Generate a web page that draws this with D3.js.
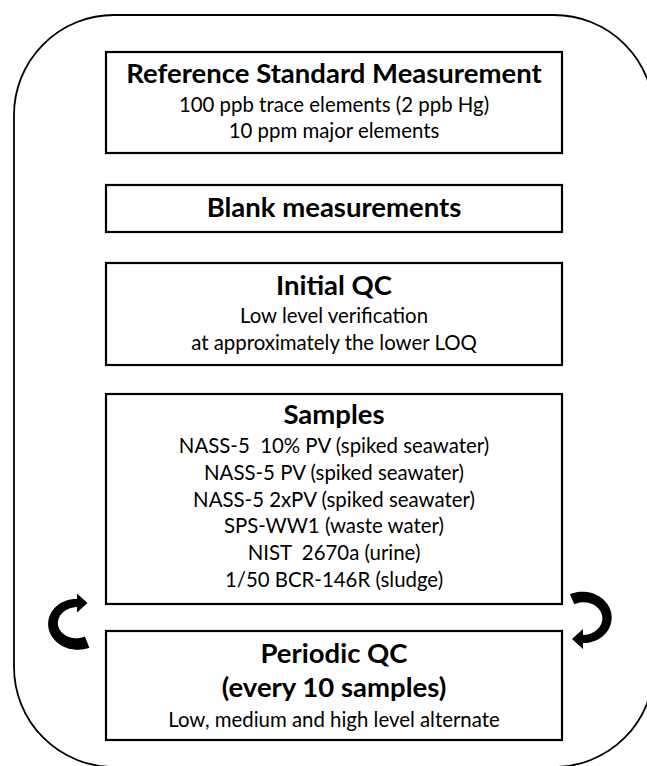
<!DOCTYPE html>
<html>
<head>
<meta charset="utf-8">
<script src="https://cdn.jsdelivr.net/npm/d3@7"></script>
<style>
  html, body { margin: 0; padding: 0; background: #fff; }
  svg { display: block; }
  text { white-space: pre; }
</style>
</head>
<body>
<div id="chart"></div>
<script>
// ---- content ----
const stepTitles = [
  ["Reference Standard Measurement"],
  ["Blank measurements"],
  ["Initial QC"],
  ["Samples"],
  ["Periodic QC", "(every 10 samples)"]
];
const stepDetails = [
  ["100 ppb trace elements (2 ppb Hg)", "10 ppm major elements"],
  [],
  ["Low level verification", "at approximately the lower LOQ"],
  ["NASS-5  10% PV (spiked seawater)", "NASS-5 PV (spiked seawater)", "NASS-5 2xPV (spiked seawater)",
   "SPS-WW1 (waste water)", "NIST  2670a (urine)", "1/50 BCR-146R (sludge)"],
  ["Low, medium and high level alternate"]
];

// ---- layout ----
const W = 647, H = 766;
const FONT = "Lato, 'Open Sans', sans-serif";
const boxX0 = 106, boxX1 = 562, cx = (boxX0 + boxX1) / 2;
const boxY = [[52, 153], [185, 232], [263, 365], [394, 604], [631, 740]];
const titleBase = [[83], [217], [295], [424], [663, 697]];
const detailBase = [[111.5, 138], [], [323, 350], [453, 480, 506.5, 533, 560, 586.5], [727]];

const svg = d3.select("#chart").append("svg")
  .attr("width", W).attr("height", H);

// outer rounded frame
svg.append("rect")
  .attr("x", 14).attr("y", 15)
  .attr("width", 640).attr("height", 752)
  .attr("rx", 100).attr("ry", 100)
  .attr("fill", "none").attr("stroke", "#000").attr("stroke-width", 1.8);

const steps = stepTitles.map((t, i) => ({ titles: t, details: stepDetails[i], i }));

const g = svg.selectAll("g.step").data(steps).join("g").attr("class", "step");

g.append("rect")
  .attr("x", boxX0)
  .attr("y", d => boxY[d.i][0])
  .attr("width", boxX1 - boxX0)
  .attr("height", d => boxY[d.i][1] - boxY[d.i][0])
  .attr("fill", "#fff").attr("stroke", "#000").attr("stroke-width", 2.2);

g.each(function(d) {
  const sel = d3.select(this);
  sel.selectAll("text.title").data(d.titles).join("text")
    .attr("class", "title")
    .attr("x", cx).attr("y", (t, j) => titleBase[d.i][j])
    .attr("text-anchor", "middle")
    .attr("font-family", FONT).attr("font-weight", "bold").attr("font-size", 27.5)
    .attr("fill", "#000")
    .text(t => t);
  sel.selectAll("text.detail").data(d.details).join("text")
    .attr("class", "detail")
    .attr("x", cx).attr("y", (t, j) => detailBase[d.i][j])
    .attr("text-anchor", "middle")
    .attr("font-family", FONT).attr("font-size", 20.4)
    .attr("fill", "#000")
    .text(t => t);
});

// curved arrows (tapered band + head), built by sampling an ellipse
function curvedArrow(c, rx, ry, t0, t1, w0, w1, headHalf, headLen) {
  const n = 60, left = [], right = [];
  let end;
  for (let k = 0; k <= n; k++) {
    const f = k / n, t = t0 + (t1 - t0) * f;
    const x = c[0] + rx * Math.cos(t), y = c[1] + ry * Math.sin(t);
    let tx = -rx * Math.sin(t) * Math.sign(t1 - t0), ty = ry * Math.cos(t) * Math.sign(t1 - t0);
    const L = Math.hypot(tx, ty); tx /= L; ty /= L;
    const nx = -ty, ny = tx, w = (w0 + (w1 - w0) * f) / 2;
    left.push([x + nx * w, y + ny * w]);
    right.push([x - nx * w, y - ny * w]);
    if (k === n) end = { x, y, tx, ty, nx, ny };
  }
  const p = d3.path();
  p.moveTo(left[0][0], left[0][1]);
  left.slice(1).forEach(q => p.lineTo(q[0], q[1]));
  p.lineTo(end.x + end.nx * headHalf, end.y + end.ny * headHalf);
  p.lineTo(end.x + end.tx * headLen, end.y + end.ty * headLen);
  p.lineTo(end.x - end.nx * headHalf, end.y - end.ny * headHalf);
  right.slice().reverse().forEach(q => p.lineTo(q[0], q[1]));
  p.closePath();
  return p.toString();
}
const deg = Math.PI / 180;
svg.append("path")
  .attr("d", curvedArrow([77, 623.5], 24, 20.5, 65 * deg, 270 * deg, 12, 8, 9.5, 10.5))
  .attr("fill", "#000");
svg.append("path")
  .attr("d", curvedArrow([583, 618], 24, 21, -117 * deg, 90 * deg, 11, 8, 10, 11))
  .attr("fill", "#000");
</script>
</body>
</html>
